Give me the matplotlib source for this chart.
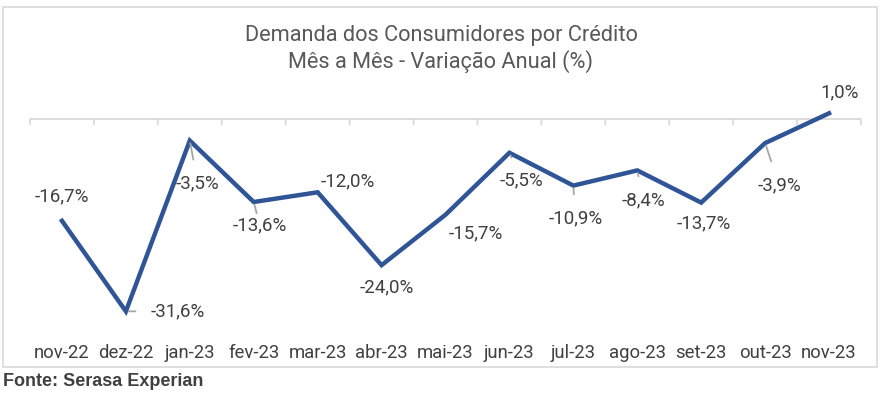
import matplotlib.pyplot as plt
import matplotlib.transforms as mtransforms
from matplotlib.patches import Rectangle

# -------------------- Data --------------------
meses = ["nov-22", "dez-22", "jan-23", "fev-23", "mar-23", "abr-23", "mai-23",
         "jun-23", "jul-23", "ago-23", "set-23", "out-23", "nov-23"]
variacao = [-16.7, -31.6, -3.5, -13.6, -12.0, -24.0, -15.7,
            -5.5, -10.9, -8.4, -13.7, -3.9, 1.0]
rotulos = ["-16,7%", "-31,6%", "-3,5%", "-13,6%", "-12,0%", "-24,0%", "-15,7%",
           "-5,5%", "-10,9%", "-8,4%", "-13,7%", "-3,9%", "1,0%"]

# label offsets in pixels (dx, dy) and whether Excel drew a leader line
offsets = [(0, 24), (52, 0), (8, -43), (6, -23), (30, 11), (5, -22), (30, -19),
           (12, -28), (2, -33), (6, -30), (3, -21), (14, -42), (11, 21)]
leader = [False, True, True, True, False, False, False,
          True, True, True, False, True, False]

cor_linha = "#2F5597"
cor_texto = "#404040"

plt.rcParams['font.family'] = ['Roboto', 'DejaVu Sans']

fig = plt.figure(figsize=(8.8, 3.94), dpi=100)
W, H = 880, 394

# chart frame
fig.patches.append(Rectangle((3 / W, 1 - 367 / H), 874 / W, 360 / H,
                             transform=fig.transFigure, fill=False,
                             edgecolor="#D9D9D9", linewidth=1.2))

ax = fig.add_axes([30 / W, 1 - 332 / H, 831 / W, 243 / H])
x = list(range(len(meses)))
ax.plot(x, variacao, color=cor_linha, linewidth=3.2, solid_joinstyle="miter", zorder=3)

ax.set_xlim(-0.5, len(meses) - 0.5)
ax.set_ylim(-35, 5)
for s in ax.spines.values():
    s.set_visible(False)
ax.set_yticks([])
ax.set_xticks([])

# zero line with category separator ticks
ax.axhline(0, color="#D9D9D9", linewidth=1.3, zorder=1)
for b in range(len(meses) + 1):
    ax.annotate("", xy=(b - 0.5, 0), xytext=(0, -5), textcoords="offset pixels",
                arrowprops=dict(arrowstyle="-", color="#D9D9D9", lw=1.3,
                                shrinkA=0, shrinkB=0))

# category labels at bottom
trans = mtransforms.blended_transform_factory(ax.transData, fig.transFigure)
for i, m in enumerate(meses):
    ax.text(i, 1 - 353 / H, m, transform=trans, ha="center", va="center",
            fontsize=13.3, color=cor_texto)

# data labels
for i, (v, r) in enumerate(zip(variacao, rotulos)):
    dx, dy = offsets[i]
    props = None
    if leader[i]:
        props = dict(arrowstyle="-", color="#A6A6A6", lw=1.3, shrinkA=9, shrinkB=2)
    ax.annotate(r, xy=(i, v), xytext=(dx, dy), textcoords="offset pixels",
                ha="center", va="center", fontsize=13.5, color=cor_texto,
                arrowprops=props, zorder=4)

fig.text(441 / W, 1 - 36 / H, "Demanda dos Consumidores por Crédito",
         ha="center", va="center", fontsize=15.7, color="#595959")
fig.text(441 / W, 1 - 62 / H, "Mês a Mês - Variação Anual (%)",
         ha="center", va="center", fontsize=15.7, color="#595959")

fig.text(3 / W, 1 - 381 / H, "Fonte: Serasa Experian", ha="left", va="center",
         fontsize=13, fontweight="bold", color="#404040", family="Liberation Sans")

fig.savefig("out.png", dpi=100)
